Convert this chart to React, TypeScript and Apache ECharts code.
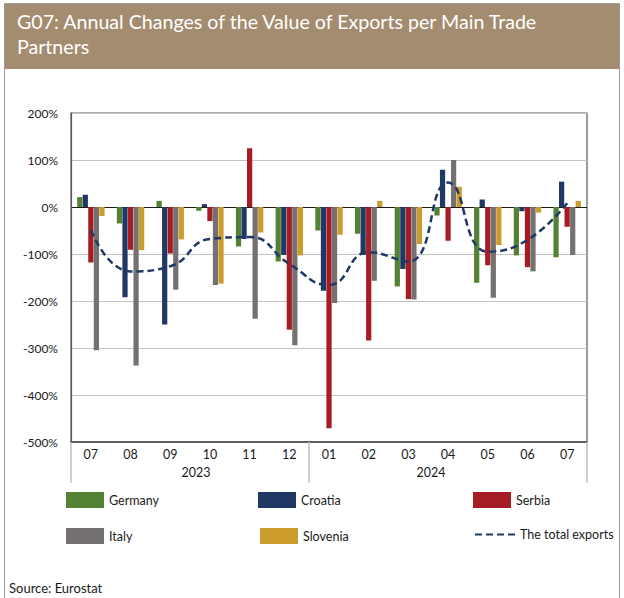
import { useEffect, useRef } from 'react';
import * as echarts from 'echarts';

const months = ['07', '08', '09', '10', '11', '12', '01', '02', '03', '04', '05', '06', '07'];
const germany = [21, -35, 13, -8, -84, -116, -50, -57, -169, -18, -161, -103, -107];
const croatia = [26, -192, -250, 6, -68, -102, -178, -102, -132, 79, 16, -9, 54];
const serbia = [-118, -91, -99, -30, 125, -261, -471, -284, -196, -72, -124, -128, -42];
const italy = [-305, -337, -176, -166, -238, -294, -204, -157, -197, 100, -193, -137, -102];
const slovenia = [-19, -92, -69, -163, -54, -103, -59, 13, -79, 43, -81, -12, 13];
const totalExports = [-49, -137, -126, -68, -64, -121, -166, -96, -116, 52, -95, -70, 8];
const yearLabels = ['2023', '2024'];
const yearLabelPos = [2.65, 8.57];
const yearSeparators = [-0.5, 5.5, 12.5];
const yTicks = { min: -500, max: 200, interval: 100 };

const FONT = 'Lato';

export default function App() {
  const ref = useRef<HTMLDivElement>(null);
  useEffect(() => {
    const chart = echarts.init(ref.current!, null, { renderer: 'svg' });
    const barNames = ['Germany', 'Croatia', 'Serbia', 'Italy', 'Slovenia'];
    const barData = [germany, croatia, serbia, italy, slovenia];
    const barColors = ['#548235', '#1F3864', '#A51C24', '#767171', '#CB9B2B'];
    const legendText = { fontFamily: FONT, fontSize: 12.5, color: '#1a1a1a' };
    const legendBase = { padding: 0, itemWidth: 38, itemHeight: 16, textStyle: legendText, selectedMode: false };
    const gridColors = ['#c4c4c4', '#c4c4c4', '#c4c4c4', '#c4c4c4', '#c4c4c4', '#1a1a1a', '#c4c4c4', '#c4c4c4'];
    chart.setOption({
      animation: false,
      backgroundColor: '#fff',
      textStyle: { fontFamily: FONT },
      graphic: [
        { type: 'rect', silent: true, z: -10, shape: { x: 4.5, y: 3.5, width: 615, height: 640 }, style: { fill: 'none', stroke: '#9a9a9a', lineWidth: 1 } },
        { type: 'rect', silent: true, z: -9, shape: { x: 5, y: 4, width: 614, height: 65 }, style: { fill: '#A38C70' } },
      ],
      title: [
        {
          text: 'G07: Annual Changes of the Value of Exports per Main Trade\nPartners',
          left: 17, top: 9, padding: 0,
          textStyle: { color: '#ffffff', fontSize: 19.6, fontWeight: 'normal', fontFamily: FONT, lineHeight: 25 },
        },
        {
          text: 'Source: Eurostat',
          left: 9, top: 580, padding: 0,
          textStyle: { color: '#1a1a1a', fontSize: 13, fontWeight: 'normal', fontFamily: FONT, lineHeight: 16 },
        },
      ],
      legend: [
        { ...legendBase, data: [{ name: 'Germany', icon: 'rect' }], left: 66, top: 492 },
        { ...legendBase, data: [{ name: 'Croatia', icon: 'rect' }], left: 258, top: 492 },
        { ...legendBase, data: [{ name: 'Serbia', icon: 'rect' }], left: 473, top: 492 },
        { ...legendBase, data: [{ name: 'Italy', icon: 'rect' }], left: 66, top: 528 },
        { ...legendBase, data: [{ name: 'Slovenia', icon: 'rect' }], left: 260, top: 528 },
        {
          ...legendBase, itemWidth: 40, left: 474, top: 528,
          data: [{ name: 'The total exports', itemStyle: { opacity: 0 } }],
        },
      ],
      grid: { left: 71, top: 113, width: 516, height: 329, show: true, borderColor: '#595959', borderWidth: 1.2, containLabel: false },
      xAxis: [
        {
          type: 'category',
          data: months,
          axisLine: { onZero: false, lineStyle: { color: '#404040', width: 1.5 } },
          axisTick: { show: false },
          axisLabel: { fontFamily: FONT, fontSize: 12.5, color: '#1a1a1a', margin: 6, interval: 0 },
        },
        {
          type: 'value',
          position: 'bottom',
          min: -0.5,
          max: 12.5,
          axisLine: { show: false, onZero: false },
          splitLine: { show: false },
          axisTick: { show: true, customValues: yearSeparators, length: 41, lineStyle: { color: '#bfbfbf', width: 1.5 } },
          axisLabel: {
            customValues: yearLabelPos,
            formatter: (v: number) => (v < yearSeparators[1] ? yearLabels[0] : yearLabels[1]),
            fontFamily: FONT, fontSize: 12.5, color: '#1a1a1a', margin: 24,
          },
        },
      ],
      yAxis: {
        type: 'value',
        min: yTicks.min, max: yTicks.max, interval: yTicks.interval,
        axisLine: { show: true, onZero: false, lineStyle: { color: '#595959', width: 1.2 } },
        axisTick: { show: false },
        axisLabel: { formatter: '{value}%', fontFamily: FONT, fontSize: 12, color: '#1a1a1a', margin: 13 },
        splitLine: { lineStyle: { color: gridColors, width: 1.2 } },
      },
      series: [
        ...barNames.map((name, i) => ({
          name,
          type: 'bar',
          data: barData[i],
          itemStyle: { color: barColors[i] },
          barCategoryGap: '31%',
          barGap: '6%',
          xAxisIndex: 0,
        })),
        {
          name: 'The total exports',
          type: 'line',
          data: totalExports,
          smooth: true,
          symbol: 'none',
          xAxisIndex: 0,
          z: 5,
          lineStyle: { color: '#1F3864', width: 2.5, type: [7, 4] },
          itemStyle: { color: '#1F3864' },
        },
      ],
    });
    return () => chart.dispose();
  }, []);
  return <div ref={ref} style={{ position: 'absolute', left: 0, top: 0, width: 624, height: 598 }} />;
}
